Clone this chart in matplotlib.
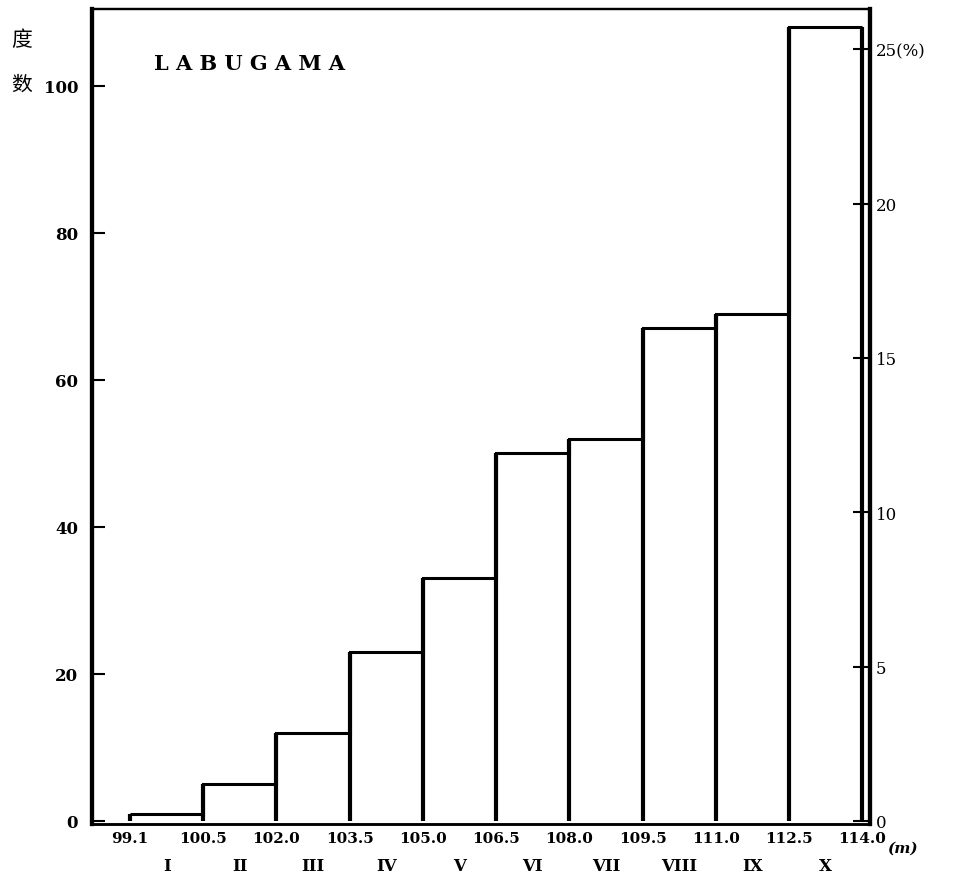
import matplotlib
matplotlib.use('Agg')
import matplotlib.pyplot as plt
import numpy as np

# bin edges (m) and counts per class
edges = ["99.1", "100.5", "102.0", "103.5", "105.0", "106.5",
         "108.0", "109.5", "111.0", "112.5", "114.0"]
classes = ["I", "II", "III", "IV", "V", "VI", "VII", "VIII", "IX", "X"]
counts = [1, 5, 12, 23, 33, 50, 52, 67, 69, 108]
total = sum(counts)

left_ticks = [0, 20, 40, 60, 80, 100]
right_ticks = [0, 5, 10, 15, 20, 25]
right_labels = ["0", "5", "10", "15", "20", "25(%)"]

serif = "DejaVu Serif"
cjk = ["Noto Sans CJK SC", "DejaVu Sans"]

fig = plt.figure(figsize=(9.78, 8.87), dpi=100)
ax = fig.add_axes([0.094, 0.070, 0.796, 0.919])

pos = np.arange(len(counts)) + 0.5
edge_pos = np.arange(len(edges))
# white bars, outline drawn as top steps plus vertical sides
ax.bar(pos, counts, width=1.0, color="white", linewidth=0)
ax.stairs(counts, edge_pos, baseline=None, color="black", linewidth=2.2)
side_h = [max(a, b) for a, b in zip([0] + counts, counts + [0])]
ax.vlines(edge_pos, 0, side_h, color="black", linewidth=3.0)

ax.set_xlim(-0.52, 10.11)
ylim = (-0.4, 110.5)
ax.set_ylim(*ylim)

# x axis: edge values as major labels, class numerals as minor labels
ax.set_xticks(edge_pos)
ax.set_xticklabels(edges, fontsize=11, fontweight="bold", family=serif)
ax.set_xticks(pos, minor=True)
ax.set_xticklabels(classes, minor=True, fontsize=12, fontweight="bold", family=serif)
ax.tick_params(axis="x", which="major", length=0, pad=5)
ax.tick_params(axis="x", which="minor", length=0, pad=24)

ax.set_yticks(left_ticks)
ax.set_yticklabels([str(t) for t in left_ticks], fontsize=12, fontweight="bold", family=serif)
ax.tick_params(axis="y", direction="in", length=9, width=1.5, pad=10)

ax2 = ax.twinx()
ax2.set_ylim(ylim[0] * 100 / total, ylim[1] * 100 / total)
ax2.set_yticks(right_ticks)
ax2.set_yticklabels(right_labels, fontsize=12, family=serif)
ax2.tick_params(axis="y", direction="in", length=12, width=1.5, pad=4)

for a in (ax, ax2):
    a.spines["left"].set_linewidth(3)
    a.spines["right"].set_linewidth(3)
    a.spines["top"].set_linewidth(1.6)
    a.spines["bottom"].set_linewidth(1.8)

ax.text(0.08, 0.934, "L A B U G A M A", transform=ax.transAxes,
        fontsize=15, fontweight="bold", family=serif, va="center")
ax.text(1.022, -0.029, "(m)", transform=ax.transAxes, fontsize=11,
        fontweight="bold", family=serif, style="italic", va="center")

fig.text(0.022, 0.955, "度", fontsize=15, family=cjk, va="center", ha="center")
fig.text(0.022, 0.905, "数", fontsize=15, family=cjk, va="center", ha="center")

fig.savefig("out.png", dpi=100)
plt.close(fig)
